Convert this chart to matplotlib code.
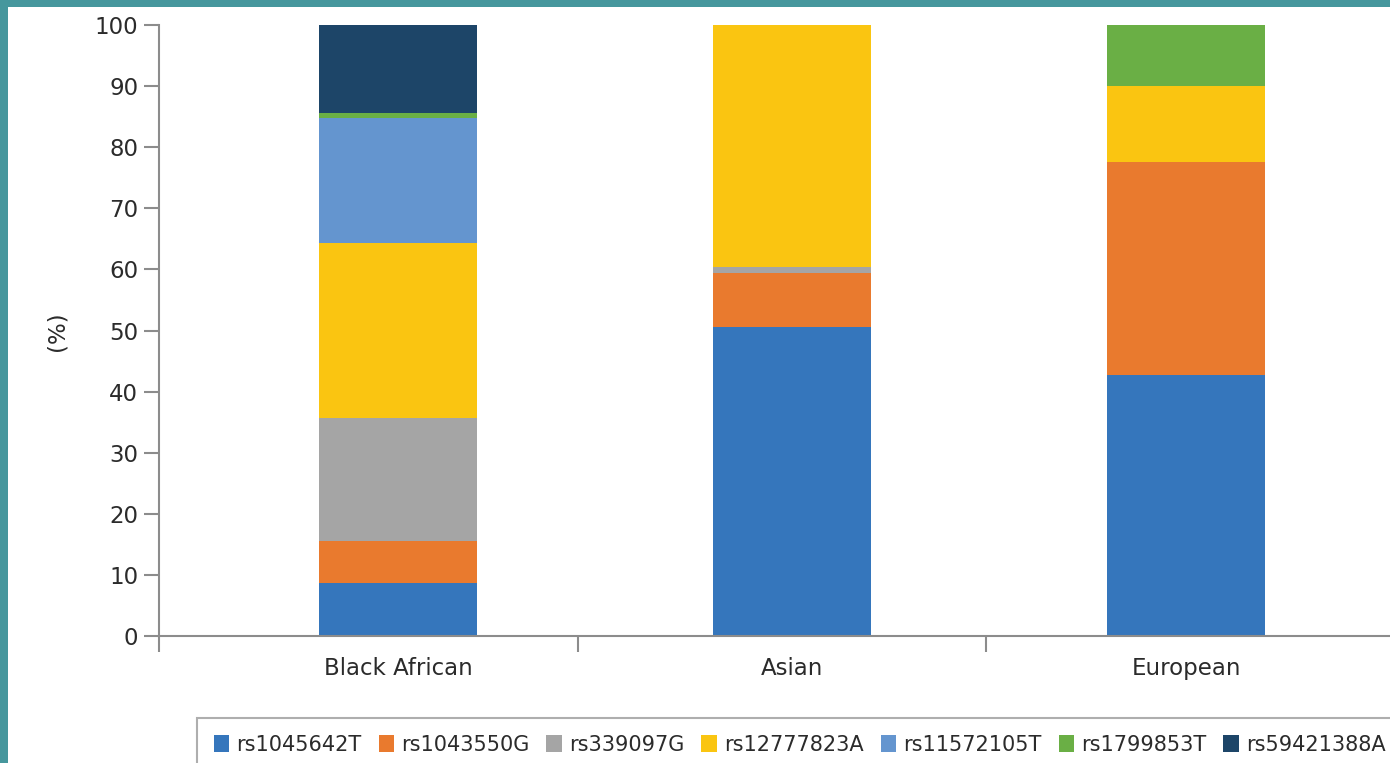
import matplotlib
matplotlib.use("Agg")
import matplotlib.pyplot as plt
from matplotlib.patches import Rectangle
import numpy as np

plt.rcParams['font.family'] = ['DejaVu Sans']

categories = ["Black African", "Asian", "European"]
series_names = ["rs1045642T", "rs1043550G", "rs339097G", "rs12777823A",
                "rs11572105T", "rs1799853T", "rs59421388A"]
rs1045642T = [8.7, 50.6, 42.7]
rs1043550G = [6.8, 8.8, 34.9]
rs339097G = [20.2, 1.0, 0.0]
rs12777823A = [28.6, 39.6, 12.4]
rs11572105T = [20.5, 0.0, 0.0]
rs1799853T = [0.8, 0.0, 10.0]
rs59421388A = [14.4, 0.0, 0.0]
series_values = [rs1045642T, rs1043550G, rs339097G, rs12777823A,
                 rs11572105T, rs1799853T, rs59421388A]
colors = ["#3576BC", "#E97A2E", "#A5A5A5", "#FAC511", "#6495CF", "#6AAF45", "#1D4568"]
yticks = [0, 10, 20, 30, 40, 50, 60, 70, 80, 90, 100]

W, H = 1390, 763
fig = plt.figure(figsize=(W / 100, H / 100), dpi=100)
fig.patch.set_facecolor("#46979D")
fig.patches.append(Rectangle((8 / W, 0), 1, 1 - 7 / H, transform=fig.transFigure,
                             facecolor="white", edgecolor="none", zorder=-10))

ax = fig.add_axes([159 / W, 1 - 636 / H, 1 - 159 / W, (636 - 25) / H])
ax.set_facecolor("none")
ax.set_zorder(1)

x = np.arange(len(categories))
bottom = np.zeros(len(categories))
handles = []
for name, vals, c in zip(series_names, series_values, colors):
    v = np.array(vals)
    b = ax.bar(x, v, width=0.401, bottom=bottom, color=c, label=name, linewidth=0, zorder=2)
    handles.append(b)
    bottom += v

ax.set_xlim(-0.607, 2.517)
ax.set_ylim(0, 100)
ax.set_yticks(yticks)
ax.set_xticks(x)
ax.set_xticklabels(categories)
ax.set_xticks([-0.607, 0.457, 1.492], minor=True)

for s in ["top", "right"]:
    ax.spines[s].set_visible(False)
for s in ["left", "bottom"]:
    ax.spines[s].set_color("#8C8C8C")
    ax.spines[s].set_linewidth(1.5)

ax.tick_params(axis="y", length=11, width=1.5, color="#8C8C8C", pad=4,
               labelsize=16.5, labelcolor="#2B2B2B")
ax.tick_params(axis="x", which="major", length=0, pad=15, labelsize=16.5, labelcolor="#2B2B2B")
ax.tick_params(axis="x", which="minor", length=11.5, width=1.5, color="#8C8C8C")

fig.text(57 / W, 1 - 331 / H, "(%)", rotation=90, ha="center", va="center",
         fontsize=16.5, color="#2B2B2B")

leg = fig.legend(handles=handles, labels=series_names, ncol=7, loc="upper left",
                 bbox_to_anchor=(197 / W, 1 - 718 / H), fontsize=15,
                 handlelength=0.75, handleheight=0.85, handletextpad=0.33,
                 columnspacing=0.82, borderpad=0.8, borderaxespad=0,
                 fancybox=False, frameon=True)
leg.get_frame().set_edgecolor("#9A9A9A")
leg.get_frame().set_linewidth(1.5)
for t in leg.get_texts():
    t.set_color("#2B2B2B")

fig.savefig("out.png", dpi=100, facecolor=fig.get_facecolor())
